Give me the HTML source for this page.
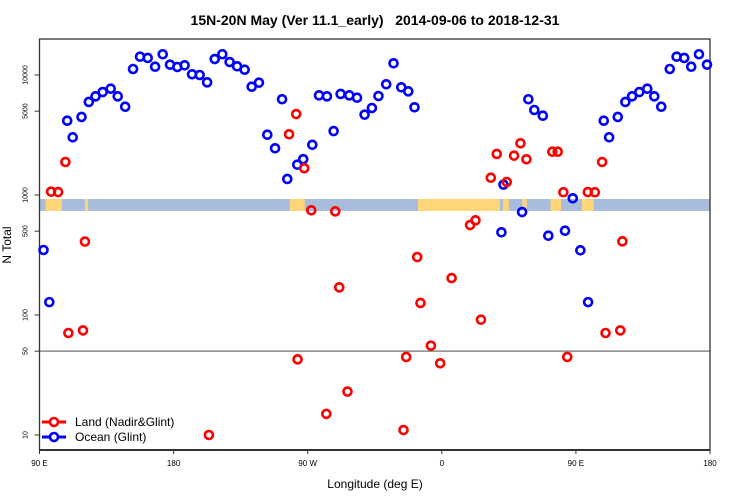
<!DOCTYPE html>
<html><head><meta charset="utf-8"><style>
body{margin:0;background:#fff;}
svg{display:block;font-family:"Liberation Sans",sans-serif;}
</style></head><body>
<svg id="chart" width="750" height="500" viewBox="0 0 750 500">
<text x="375" y="25" text-anchor="middle" font-size="14" font-weight="bold">15N-20N May (Ver 11.1_early)&#160;&#160; 2014-09-06 to 2018-12-31</text>
<g id="band"></g>
<g id="axes"></g>
<g id="marks"></g>
<text x="375" y="488" text-anchor="middle" font-size="12">Longitude (deg E)</text>
<text transform="translate(11,245) rotate(-90)" text-anchor="middle" font-size="12">N Total</text>
<g>
<line x1="42" y1="422" x2="66" y2="422" stroke="#f00" stroke-width="3"/>
<circle cx="54" cy="422" r="4" fill="#fff" stroke="#f00" stroke-width="2.6"/>
<text x="75" y="426" font-size="12">Land (Nadir&amp;Glint)</text>
<line x1="42" y1="437" x2="66" y2="437" stroke="#00f" stroke-width="3"/>
<circle cx="54" cy="437" r="4" fill="#fff" stroke="#00f" stroke-width="2.6"/>
<text x="75" y="441" font-size="12">Ocean (Glint)</text>
</g>
</svg>
<script>
const xTicks=[90,180,270,360,450,540];
const xTickLabels=["90 E","180","90 W","0","90 E","180"];
const yTicks=[10,50,100,500,1000,5000,10000];
const yTickLabels=["10","50","100","500","1000","5000","10000"];
const oceanLon=[92.7,108.6,112.3,118.2,123.1,127.6,132.4,137.8,142.5,147.5,152.8,157.5,162.6,167.6,172.7,177.6,182.5,187.4,192.4,197.5,202.5,207.6,212.7,217.6,222.6,227.7,232.4,237.3,242.9,248.1,252.8,256.3,263.0,267.0,273.1,277.6,282.9,287.4,292.1,297.9,303.1,308.2,313.1,317.5,322.7,327.6,332.8,337.5,341.7,400.0,401.4,413.9,418.1,422.1,427.8,431.5,442.7,447.9,453.0,458.2,96.6,468.7,472.3,478.1,483.2,487.7,492.6,497.9,502.6,507.3,513.0,517.6,522.7,527.4,532.6,538.0];
const oceanN=[348,4160,3025,4470,5960,6640,7210,7690,6640,5440,11220,14210,13870,11720,14890,12190,11660,12050,10140,10000,8690,13590,14890,12830,11820,11070,7990,8630,3180,2450,6280,1360,1790,1990,2620,6770,6640,3410,6950,6770,6470,4670,5310,6680,8370,12520,7900,7310,5380,489,1220,721,6280,5110,4580,458,504,939,346,128,128,4160,3025,4470,5960,6640,7210,7690,6640,5440,11220,14210,13870,11720,14890,12190];
const landLon=[97.8,102.5,107.4,120.5,109.4,119.2,203.7,263.2,262.3,257.5,267.7,272.4,288.5,291.2,282.5,296.7,334.3,336.1,343.5,345.7,352.7,358.9,366.6,379.0,382.6,386.3,392.9,396.9,403.6,408.5,412.8,416.8,434.2,437.8,441.6,444.2,458.0,462.7,467.6,481.2,469.9,479.8];
const landN=[1066,1058,1884,409,70.8,74.4,10,42.7,4730,3205,1670,746,731,170,15.0,23.0,11.0,44.7,304,126,55.5,39.6,203,562,615,91.4,1393,2197,1283,2127,2698,1985,2294,2294,1054,44.7,1058,1054,1884,411,70.8,74.4];
const X0=39.5,X1=710,Y10=435,DEC=120,TOP=39,BOT=450;
const xs=v=>X0+(v-90)*(X1-X0)/450;
const ys=v=>Y10-DEC*(Math.log10(v)-1);
const NS='http://www.w3.org/2000/svg';
function mk(t,a,p){const e=document.createElementNS(NS,t);for(const k in a)e.setAttribute(k,a[k]);p.appendChild(e);return e;}
const band=document.getElementById('band');
mk('rect',{x:X0,y:199,width:X1-X0,height:12,fill:'#a7bddb'},band);
const landSegs=[[94,105],[120.5,122.5],[258,268],[344,399],[401,405],[414,417],[433,440],[454,462]];
landSegs.forEach(s=>mk('rect',{x:xs(s[0]),y:199,width:xs(s[1])-xs(s[0]),height:12,fill:'#fed679'},band));
const ax=document.getElementById('axes');
mk('line',{x1:X0,y1:ys(50),x2:X1,y2:ys(50),stroke:'#888','stroke-width':1.5},ax);
mk('rect',{x:X0,y:TOP,width:X1-X0,height:BOT-TOP,fill:'none',stroke:'#333','stroke-width':1.3},ax);
mk('line',{x1:X0,y1:BOT,x2:X1,y2:BOT,stroke:'#333','stroke-width':2},ax);
xTicks.forEach((t,i)=>{
 mk('line',{x1:xs(t),y1:BOT,x2:xs(t),y2:BOT+4,stroke:'#333'},ax);
 const tx=mk('text',{x:xs(t),y:BOT+16,'font-size':8,'text-anchor':'middle'},ax);
 tx.textContent=xTickLabels[i];
 
 
});
yTicks.forEach((t,i)=>{
 mk('line',{x1:X0-5,y1:ys(t),x2:X0,y2:ys(t),stroke:'#333'},ax);
 const tx=mk('text',{transform:`translate(${X0-12},${ys(t)}) rotate(-90)`,'font-size':7,'text-anchor':'middle'},ax);
 tx.textContent=yTickLabels[i];
 
 
});
const mg=document.getElementById('marks');
function pts(lon,n,col,name){lon.forEach((l,i)=>{
 const c=mk('circle',{cx:xs(l),cy:ys(n[i]),r:4,fill:'none',stroke:col,'stroke-width':2.6},mg);
 
 
});}
pts(oceanLon,oceanN,'#0000ff','ocean-point');
pts(landLon,landN,'#ff0000','land-point');
</script>
</body></html>
